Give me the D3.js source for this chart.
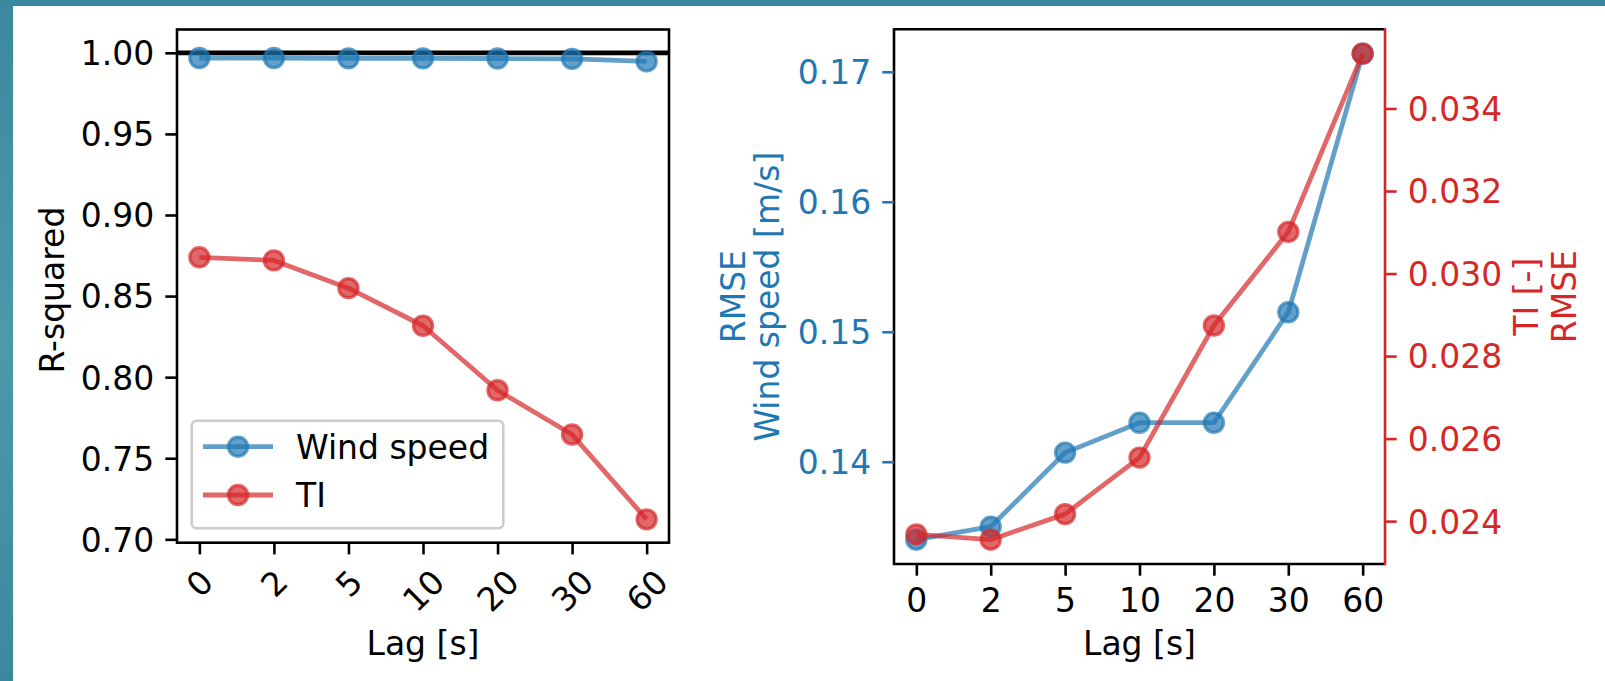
<!DOCTYPE html>
<html>
<head>
<meta charset="utf-8">
<script src="https://cdn.jsdelivr.net/npm/d3@7"></script>
<style>
  html, body { margin: 0; padding: 0; background: #3a88a0; }
  svg { display: block; }
  text { font-family: "DejaVu Sans", sans-serif; }
</style>
</head>
<body>
<svg id="chart" width="1605" height="681"></svg>
<script>
// ---- data ----
const lags = ["0", "2", "5", "10", "20", "30", "60"];
const r2Wind = [0.9968, 0.9968, 0.9966, 0.9966, 0.9965, 0.9963, 0.9947];
const r2TI = [0.8739, 0.8720, 0.8549, 0.8317, 0.7919, 0.7646, 0.7123];
const rmseWind = [0.1340, 0.1350, 0.1407, 0.1430, 0.1430, 0.1515, 0.1714];
const rmseTI = [0.02368, 0.02355, 0.02417, 0.02554, 0.02874, 0.03101, 0.03533];
const r2Ticks = [0.70, 0.75, 0.80, 0.85, 0.90, 0.95, 1.00];
const windTicks = [0.14, 0.15, 0.16, 0.17];
const tiTicks = [0.024, 0.026, 0.028, 0.030, 0.032, 0.034];
const legendLabels = ["Wind speed", "TI"];

const BLUE = "#1f77b4", RED = "#d62728";
const FS = 33, TICK = 11.7, PAD = 11, SPINE = 2.6, LW = 4.8, MR = 9.6, MEW = 3.2, ALPHA = 0.7;

const svg = d3.select("#chart");

// background
const defs = svg.append("defs");
const grad = defs.append("linearGradient").attr("id", "bg").attr("x1", 0).attr("y1", 0).attr("x2", 0).attr("y2", 1);
grad.append("stop").attr("offset", "0%").attr("stop-color", "#3a88a0");
grad.append("stop").attr("offset", "50%").attr("stop-color", "#4e98ae");
grad.append("stop").attr("offset", "100%").attr("stop-color", "#3a88a0");
svg.append("rect").attr("width", 1605).attr("height", 681).attr("fill", "url(#bg)");
svg.append("rect").attr("x", 0).attr("y", 0).attr("width", 1605).attr("height", 6).attr("fill", "#3a87a0");
svg.append("rect").attr("x", 13).attr("y", 6).attr("width", 1592).attr("height", 675).attr("fill", "#ffffff");

function pad5(vals) {
  const lo = d3.min(vals), hi = d3.max(vals), r = hi - lo;
  return [lo - 0.05 * r, hi + 0.05 * r];
}

function drawSeries(g, x, y, vals, color) {
  const line = d3.line().x((d, i) => x(lags[i])).y(d => y(d));
  g.append("path").datum(vals).attr("d", line)
    .attr("fill", "none").attr("stroke", color).attr("stroke-width", LW)
    .attr("stroke-opacity", ALPHA).attr("stroke-linejoin", "round").attr("stroke-linecap", "butt");
  g.selectAll(null).data(vals).enter().append("circle")
    .attr("cx", (d, i) => x(lags[i])).attr("cy", d => y(d)).attr("r", MR)
    .attr("fill", color).attr("fill-opacity", ALPHA)
    .attr("stroke", color).attr("stroke-opacity", ALPHA).attr("stroke-width", MEW);
}

function styleAxis(g, color) {
  g.select(".domain").remove();
  g.selectAll(".tick line").attr("stroke", color).attr("stroke-width", SPINE);
  g.selectAll(".tick text").attr("fill", color).style("font-size", FS + "px")
    .style("font-family", "DejaVu Sans");
}

// ================= LEFT PANEL =================
{
  const L = 177, R = 669, T = 29.5, B = 542.7;
  const x = d3.scalePoint().domain(lags).range([L, R]).padding(0.3);
  const y = d3.scaleLinear().domain(pad5(r2TI.concat(r2Wind, [1.0]))).range([B, T]);
  const g = svg.append("g");

  // reference line at 1
  g.append("line").attr("x1", L).attr("x2", R).attr("y1", y(1)).attr("y2", y(1))
    .attr("stroke", "#000").attr("stroke-width", 4.8);

  drawSeries(g, x, y, r2Wind, BLUE);
  drawSeries(g, x, y, r2TI, RED);

  // legend
  const lg = g.append("g");
  lg.append("rect").attr("x", 191.7).attr("y", 420.7).attr("width", 311.6).attr("height", 107.6)
    .attr("rx", 5).attr("fill", "#fff").attr("fill-opacity", 0.8)
    .attr("stroke", "#cccccc").attr("stroke-width", 2.6);
  const legendColors = [BLUE, RED];
  const legendY = [446.7, 495];
  legendLabels.forEach((lab, i) => {
    lg.append("line").attr("x1", 203).attr("x2", 273).attr("y1", legendY[i]).attr("y2", legendY[i])
      .attr("stroke", legendColors[i]).attr("stroke-width", LW).attr("stroke-opacity", ALPHA);
    lg.append("circle").attr("cx", 238).attr("cy", legendY[i]).attr("r", MR)
      .attr("fill", legendColors[i]).attr("fill-opacity", ALPHA)
      .attr("stroke", legendColors[i]).attr("stroke-opacity", ALPHA).attr("stroke-width", MEW);
    lg.append("text").attr("x", 296).attr("y", legendY[i] + 12).attr("fill", "#000")
      .style("font-size", FS + "px").text(lab);
  });

  // frame
  g.append("rect").attr("x", L).attr("y", T).attr("width", R - L).attr("height", B - T)
    .attr("fill", "none").attr("stroke", "#000").attr("stroke-width", SPINE);

  // y axis
  const ya = g.append("g").attr("transform", `translate(${L},0)`)
    .call(d3.axisLeft(y).tickValues(r2Ticks).tickFormat(d3.format(".2f")).tickSize(TICK).tickPadding(PAD));
  styleAxis(ya, "#000");
  ya.selectAll(".tick text").attr("dy", "0.36em");

  // x axis with rotated labels
  const xa = g.append("g").attr("transform", `translate(0,${B})`)
    .call(d3.axisBottom(x).tickSize(TICK).tickPadding(PAD));
  styleAxis(xa, "#000");
  xa.selectAll(".tick text").each(function () {
    const t = d3.select(this);
    const w = this.getComputedTextLength();
    const h = 30;
    const cy = TICK + PAD + (w + h) / (2 * Math.SQRT2);
    t.attr("y", null).attr("dy", null).attr("text-anchor", "middle")
      .attr("dominant-baseline", "central")
      .attr("transform", `translate(0,${cy}) rotate(-45)`);
  });

  // labels
  g.append("text").attr("transform", `translate(${(L + R) / 2},655)`).attr("text-anchor", "middle")
    .style("font-size", FS + "px").attr("fill", "#000").text("Lag [s]");
  g.append("text").attr("transform", `translate(64,${(T + B) / 2 + 4}) rotate(-90)`).attr("text-anchor", "middle")
    .style("font-size", FS + "px").attr("fill", "#000").text("R-squared");
}

// ================= RIGHT PANEL =================
{
  const L = 894, R = 1385, T = 29.3, B = 564;
  const x = d3.scalePoint().domain(lags).range([L, R]).padding(0.3);
  const yW = d3.scaleLinear().domain(pad5(rmseWind)).range([B, T]);
  const yT = d3.scaleLinear().domain(pad5(rmseTI)).range([B, T]);
  const g = svg.append("g");

  drawSeries(g, x, yW, rmseWind, BLUE);
  drawSeries(g, x, yT, rmseTI, RED);

  // frame: left, top, bottom black; right red
  g.append("path").attr("d", `M${R},${T}H${L}V${B}H${R}`)
    .attr("fill", "none").attr("stroke", "#000").attr("stroke-width", SPINE);
  g.append("line").attr("x1", R).attr("x2", R).attr("y1", T - SPINE / 2).attr("y2", B + SPINE / 2)
    .attr("stroke", RED).attr("stroke-width", SPINE);

  const ya = g.append("g").attr("transform", `translate(${L},0)`)
    .call(d3.axisLeft(yW).tickValues(windTicks).tickFormat(d3.format(".2f")).tickSize(TICK).tickPadding(PAD));
  styleAxis(ya, BLUE);
  ya.selectAll(".tick text").attr("dy", "0.36em");

  const yb = g.append("g").attr("transform", `translate(${R},0)`)
    .call(d3.axisRight(yT).tickValues(tiTicks).tickFormat(d3.format(".3f")).tickSize(TICK).tickPadding(PAD));
  styleAxis(yb, RED);
  yb.selectAll(".tick text").attr("dy", "0.36em");

  const xa = g.append("g").attr("transform", `translate(0,${B})`)
    .call(d3.axisBottom(x).tickSize(TICK).tickPadding(PAD));
  styleAxis(xa, "#000");
  xa.selectAll(".tick text").attr("y", 48).attr("dy", 0);

  g.append("text").attr("transform", `translate(${(L + R) / 2},655)`).attr("text-anchor", "middle")
    .style("font-size", FS + "px").attr("fill", "#000").text("Lag [s]");

  const cy = (T + B) / 2;
  // left label (two lines)
  g.append("text").attr("transform", `translate(745,${cy}) rotate(-90)`).attr("text-anchor", "middle")
    .style("font-size", FS + "px").attr("fill", BLUE).text("RMSE");
  g.append("text").attr("transform", `translate(779,${cy}) rotate(-90)`).attr("text-anchor", "middle")
    .style("font-size", FS + "px").attr("fill", BLUE).text("Wind speed [m/s]");
  // right label (two lines)
  g.append("text").attr("transform", `translate(1538,${cy}) rotate(-90)`).attr("text-anchor", "middle")
    .style("font-size", FS + "px").attr("fill", RED).text("TI [-]");
  g.append("text").attr("transform", `translate(1576,${cy}) rotate(-90)`).attr("text-anchor", "middle")
    .style("font-size", FS + "px").attr("fill", RED).text("RMSE");
}
</script>
</body>
</html>
